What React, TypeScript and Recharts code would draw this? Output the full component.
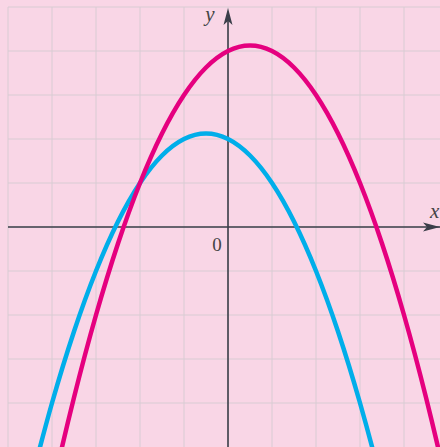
import { LineChart, Line, XAxis, YAxis, CartesianGrid, ReferenceLine, ReferenceDot } from "recharts";

// sample positions and curve values
const xs = [-4.5, -4, -3.5, -3, -2.5, -2, -1.5, -1, -0.5, 0, 0.5, 1, 1.5, 2, 2.5, 3, 3.5, 4, 4.5, 5, 5.5];
const magenta = [-8.375, -6, -3.875, -2, -0.375, 1, 2.125, 3, 3.625, 4, 4.125, 4, 3.625, 3, 2.125, 1, -0.375, -2, -3.875, -6, -8.375];
const blue = [-5.875, -4, -2.375, -1, 0.125, 1, 1.625, 2, 2.125, 2, 1.625, 1, 0.125, -1, -2.375, -4, -5.875, -8, null, null, null];

const xTicks = [-5, -4, -3, -2, -1, 0, 1, 2, 3, 4];
const yTicks = [-4, -3, -2, -1, 0, 1, 2, 3, 4, 5];

const data = xs.map((x, i) => ({ x, f: magenta[i], g: blue[i] }));

const AXIS = "#3b3e49";
const SERIF = "'Liberation Serif', 'DejaVu Serif', serif";

const YArrow = (p: any) => (
  <g>
    <path d={`M${p.cx},${p.cy + 1} L${p.cx + 4.5},${p.cy + 18} L${p.cx},${p.cy + 14} L${p.cx - 4.5},${p.cy + 18} Z`} fill={AXIS} />
    <text x={p.cx - 18} y={p.cy + 14} fontFamily={SERIF} fontStyle="italic" fontSize={21} fill="#444" textAnchor="middle">y</text>
  </g>
);

const XArrow = (p: any) => (
  <g>
    <path d={`M${p.cx},${p.cy} L${p.cx - 17},${p.cy - 4.5} L${p.cx - 13},${p.cy} L${p.cx - 17},${p.cy + 4.5} Z`} fill={AXIS} />
    <text x={p.cx - 10} y={p.cy - 9} fontFamily={SERIF} fontStyle="italic" fontSize={21} fill="#444">x</text>
  </g>
);

const Origin = (p: any) => (
  <text x={p.cx - 11} y={p.cy + 24} fontFamily={SERIF} fontSize={19} fill="#444" textAnchor="middle">0</text>
);

export default function App() {
  return (
    <div style={{ position: "fixed", left: 0, top: 0, width: 440, height: 447, background: "#f9d6e6" }}>
      <LineChart width={440} height={447} data={data} margin={{ top: 7, right: 0, left: 8, bottom: 0 }}>
        <CartesianGrid stroke="#d8ccd3" strokeWidth={1} verticalValues={xTicks} horizontalValues={yTicks} />
        <XAxis dataKey="x" type="number" domain={[-5, 4.818]} ticks={xTicks} allowDataOverflow hide />
        <YAxis type="number" domain={[-5, 5]} ticks={yTicks} allowDataOverflow hide />
        <ReferenceLine y={0} stroke={AXIS} strokeWidth={1.6} ifOverflow="visible" />
        <ReferenceLine segment={[{ x: 0, y: -5 }, { x: 0, y: 4.75 }]} stroke={AXIS} strokeWidth={1.6} ifOverflow="visible" />
        <Line type="monotone" dataKey="g" stroke="#00aeea" strokeWidth={4.5} dot={false} activeDot={false} isAnimationActive={false} connectNulls={false} />
        <Line type="monotone" dataKey="f" stroke="#e5007f" strokeWidth={4.5} dot={false} activeDot={false} isAnimationActive={false} />
        <ReferenceDot x={0} y={5} r={0} shape={YArrow} ifOverflow="visible" />
        <ReferenceDot x={4.818} y={0} r={0} shape={XArrow} ifOverflow="visible" />
        <ReferenceDot x={0} y={0} r={0} shape={Origin} ifOverflow="visible" />
      </LineChart>
    </div>
  );
}
